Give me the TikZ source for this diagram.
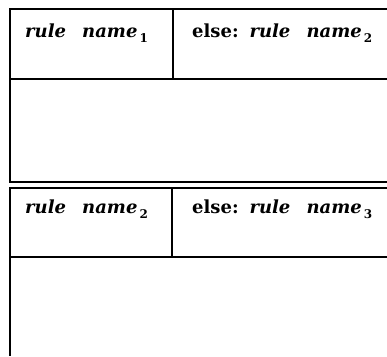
\documentclass[tikz,border=0pt]{standalone}
\usepackage{fontspec}
\setmainfont{DejaVu Serif}
\usetikzlibrary{positioning}
\newcommand{\idx}[1]{\hspace{2pt}\raisebox{-5pt}{\fontsize{12}{12}\selectfont\upshape #1}}
\begin{document}
\begin{tikzpicture}[
    x=1pt, y=-1pt,
    frame/.style   = {line width=1.6pt},
    rulename/.style = {anchor=base west, inner sep=0pt, font=\fontsize{18}{21}\selectfont\bfseries}
]
    \useasboundingbox (0,0) rectangle (387,356);

    % --- Blok Pertama ---
    \draw [frame] (387,9) -- (10,9) -- (10,182) -- (387,182);
    \draw [frame] (173,9) -- (173,79);
    \draw [frame] (10,79) -- (387,79);
    \node (name1) [rulename] at (25,37) {\itshape rule\hspace{0.9em}name\idx{1}};
    \node (else1) [rulename] at (192,37) {else:\hspace{0.6em}\itshape rule\hspace{0.9em}name\idx{2}};

    % --- Blok Kedua ---
    \draw [frame] (387,188) -- (10,188) -- (10,356);
    \draw [frame] (172,188) -- (172,257);
    \draw [frame] (10,257) -- (387,257);
    \node (name2) [rulename] at (25,213) {\itshape rule\hspace{0.9em}name\idx{2}};
    \node (else2) [rulename] at (192,213) {else:\hspace{0.6em}\itshape rule\hspace{0.9em}name\idx{3}};

\end{tikzpicture}
\end{document}
